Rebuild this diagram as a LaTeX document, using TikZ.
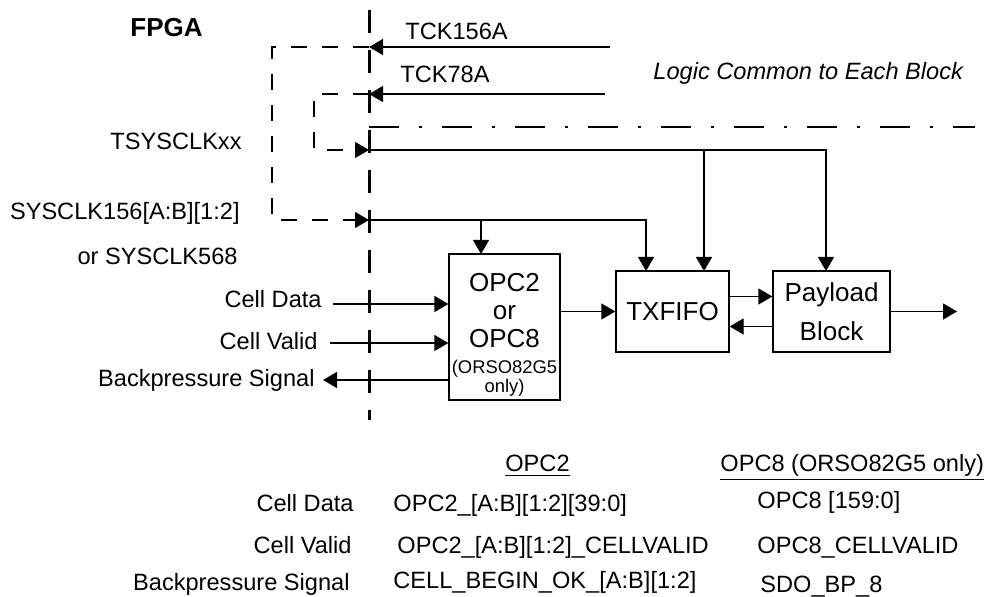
\documentclass[tikz,border=0pt]{standalone}
\usepackage{fontspec}
\setmainfont{Liberation Sans}
\usetikzlibrary{arrows.meta,positioning}
\tikzset{
  blk/.style={draw, line width=0.65pt, inner sep=0pt, align=center, font=\fontsize{13}{14}\selectfont},
  boxtxt/.style={inner sep=0pt, align=center, font=\fontsize{13}{14}\selectfont},
  note/.style={inner sep=0pt, align=center, font=\fontsize{9.2}{9.5}\selectfont},
  lbl/.style={inner sep=0pt, font=\fontsize{11.8}{14}\selectfont},
  tbl/.style={inner sep=0pt, font=\fontsize{11.8}{14}\selectfont},
  arr/.style={-{Triangle[length=7pt,width=8pt]}, line width=0.65pt},
  brk/.style={arr, dash pattern=on 8pt off 7.5pt},
  bound/.style={line width=1.5pt, dash pattern=on 11.5pt off 8.5pt},
  common/.style={line width=0.65pt, dash pattern=on 15pt off 10pt on 1.5pt off 10pt}
}
\begin{document}
\begin{tikzpicture}[x=0.5pt,y=-0.5pt]
  \useasboundingbox (0,0) rectangle (988,597);
  % FPGA boundary
  \coordinate (bTop) at (369,10);
  \coordinate (bBot) at (369,420);
  \draw[bound] (bTop) -- (bBot);
  \coordinate (bA) at (369,47);
  \coordinate (bB) at (369,94);
  \coordinate (bT) at (369,150);
  \coordinate (bS) at (369,220);
  \node[lbl, font=\fontsize{13}{14}\selectfont\bfseries, anchor=base west] (fpga) at (130,37) {FPGA};
  % common logic
  \coordinate (cmnL) at (369,127);
  \coordinate (cmnR) at (975,127);
  \draw[common] (cmnL) -- (cmnR);
  \node[lbl, font=\fontsize{11.8}{14}\selectfont\itshape, anchor=base west] (cmn) at (653,80) {Logic Common to Each Block};
  % blocks
  \node[blk, minimum width=55.5pt, minimum height=73pt] (opc) at (504.5,327) {};
  \node[boxtxt] (opctxt) at (504.5,311) {OPC2\\or\\OPC8};
  \node[note] (opcnote) at (504.5,378) {(ORSO82G5\\only)};
  \node[blk, minimum width=56.5pt, minimum height=40.5pt] (txf) at (672.5,311.5) {TXFIFO};
  \node[blk, minimum width=58.5pt, minimum height=40.5pt, font=\fontsize{13}{19.5}\selectfont] (pay) at (831.5,311.5) {Payload\\Block};
  % clock inputs
  \coordinate (tckA) at (610,47);
  \coordinate (tckB) at (605,94);
  \node[lbl, anchor=base west] (tckAl) at (405,40) {TCK156A};
  \node[lbl, anchor=base west] (tckBl) at (400,83) {TCK78A};
  \draw[arr] (tckA) -- (bA);
  \draw[arr] (tckB) -- (bB);
  \coordinate (oA) at (272,47);
  \coordinate (oB) at (272,220);
  \coordinate (iA) at (314,94);
  \coordinate (iB) at (314,150);
  \draw[brk] (bA) -- (oA) -- (oB) -- (bS);
  \draw[brk] (bB) -- (iA) -- (iB) -- (bT);
  \node[lbl, anchor=base east] (tsys) at (242,150) {TSYSCLKxx};
  \node[lbl, anchor=base east] (sys) at (240,220) {SYSCLK156[A:B][1:2]};
  \node[lbl, anchor=base east] (sysor) at (238,265) {or SYSCLK568};
  \coordinate (opcclk) at (481,254);
  \coordinate (txfclkA) at (646,271);
  \coordinate (txfclkB) at (704,271);
  \coordinate (payclk) at (826,271);
  \draw[arr] (bT) -| (payclk);
  \draw[arr] (bT -| txfclkB) -- (txfclkB);
  \draw[arr] (bS) -| (txfclkA);
  \draw[arr] (bS -| opcclk) -- (opcclk);
  % cell interface
  \node[lbl, anchor=base east] (cdl) at (322,308) {Cell Data};
  \node[lbl, anchor=base east] (cvl) at (318,350) {Cell Valid};
  \node[lbl, anchor=base east] (bpl) at (315,387) {Backpressure Signal};
  \coordinate (cd) at (333,304);
  \coordinate (cv) at (330,343);
  \coordinate (bp) at (323,380);
  \draw[arr] (cd) -- (cd -| opc.west);
  \draw[arr] (cv) -- (cv -| opc.west);
  \draw[arr] (bp -| opc.west) -- (bp);
  % data path
  \draw[arr] (opc.east |- txf.west) -- (txf.west);
  \draw[arr] ([yshift=7.5pt]txf.east) -- ([yshift=7.5pt]pay.west);
  \draw[arr] ([yshift=-7.5pt]pay.west) -- ([yshift=-7.5pt]txf.east);
  \coordinate (out) at (957,311.5);
  \draw[arr] (pay.east) -- (out);
  % signal names
  \node[tbl, anchor=base] (hopc2) at (537.5,472) {\underline{OPC2}};
  \node[tbl, anchor=base west] (hopc8) at (720,472) {\underline{OPC8 (ORSO82G5 only)}};
  \node[tbl, anchor=base east] (rcd) at (354,511) {Cell Data};
  \node[tbl, anchor=base east] (rcv) at (352,553) {Cell Valid};
  \node[tbl, anchor=base east] (rbp) at (350,590) {Backpressure Signal};
  \node[tbl, anchor=base west] (cd2) at (393,511) {OPC2\_[A:B][1:2][39:0]};
  \node[tbl, anchor=base west] (cv2) at (397,553) {OPC2\_[A:B][1:2]\_CELLVALID};
  \node[tbl, anchor=base west] (bp2) at (393,588) {CELL\_BEGIN\_OK\_[A:B][1:2]};
  \node[tbl, anchor=base west] (cd8) at (757,508) {OPC8 [159:0]};
  \node[tbl, anchor=base west] (cv8) at (757,553) {OPC8\_CELLVALID};
  \node[tbl, anchor=base west] (bp8) at (760,592) {SDO\_BP\_8};
\end{tikzpicture}
\end{document}
